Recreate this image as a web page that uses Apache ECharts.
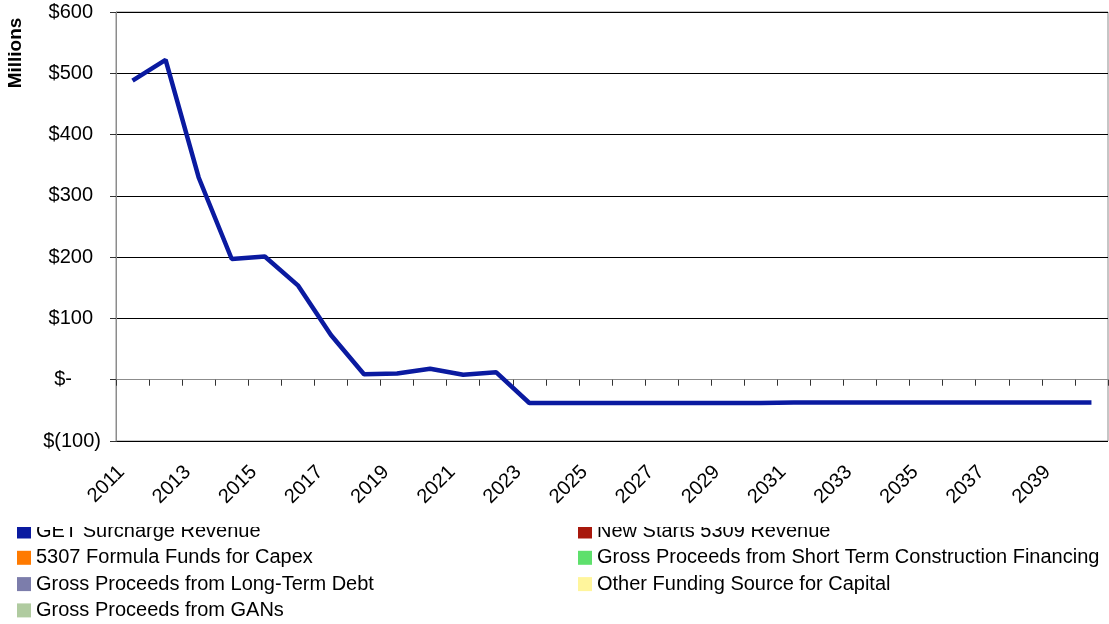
<!DOCTYPE html>
<html>
<head>
<meta charset="utf-8">
<script src="https://cdn.jsdelivr.net/npm/echarts@6/dist/echarts.min.js"></script>
<style>
html,body{margin:0;padding:0;background:#fff;}
#main{width:1109px;height:624px;}
</style>
</head>
<body>
<div id="main"></div>
<script>
const years = ['2011','2012','2013','2014','2015','2016','2017','2018','2019','2020','2021','2022','2023','2024','2025','2026','2027','2028','2029','2030','2031','2032','2033','2034','2035','2036','2037','2038','2039','2040'];
const getSurcharge = [488, 522, 330, 197, 201, 154, 73, 9, 10, 18, 8, 12, -38, -38, -38, -38, -38, -38, -38, -38, -37, -37, -37, -37, -37, -37, -37, -37, -37, -37];
const seriesNames = ['GET Surcharge Revenue','New Starts 5309 Revenue','5307 Formula Funds for Capex','Gross Proceeds from Short Term Construction Financing','Gross Proceeds from Long-Term Debt','Other Funding Source for Capital','Gross Proceeds from GANs'];
const seriesColors = ['#0A1AA0','#A8180C','#FF7A00','#5EE06C','#7C7DAB','#FFF59C','#B0CBA0'];
const yTicks = {min: -100, max: 600, interval: 100};

const chart = echarts.init(document.getElementById('main'), null, {renderer: 'canvas'});
const font = 'Liberation Sans, Arial, sans-serif';

function fmtY(v) {
  if (v === 0) return '{z|$-}';
  if (v < 0) return '{n|$(' + Math.abs(v) + ')}';
  return '{p|$' + v + '}';
}
const labStyle = {fontSize: 20, color: '#000', fontFamily: font};

const series = seriesNames.map((n, i) => ({
  name: n,
  type: 'line',
  data: i === 0 ? getSurcharge : [],
  color: seriesColors[i],
  showSymbol: false,
  symbol: 'none',
  lineStyle: {width: 4.5, color: seriesColors[i]},
  xAxisIndex: 0,
  yAxisIndex: 0,
  animation: false
}));

chart.setOption({
  animation: false,
  backgroundColor: '#ffffff',
  grid: [
    {left: 116, right: 1, top: 12, bottom: 183, show: true, borderColor: '#8c8c8c', borderWidth: 1},
    {left: 105, right: 12, top: 12, bottom: 183, show: false}
  ],
  xAxis: [{
    type: 'category',
    gridIndex: 0,
    data: years,
    boundaryGap: true,
    axisLine: {onZero: true, lineStyle: {color: '#8c8c8c', width: 1}},
    axisTick: {show: true, length: 6, interval: 0, lineStyle: {color: '#333'}},
    axisLabel: {show: false},
    splitLine: {show: false}
  }, {
    type: 'category',
    gridIndex: 1,
    data: years,
    position: 'bottom',
    boundaryGap: true,
    axisLine: {show: false, onZero: false},
    axisTick: {show: false},
    axisLabel: {show: true, interval: 1, rotate: 45, margin: 28, fontSize: 20, color: '#000', fontFamily: font},
    splitLine: {show: false}
  }],
  yAxis: [{
    type: 'value',
    gridIndex: 0,
    min: yTicks.min, max: yTicks.max, interval: yTicks.interval,
    axisLine: {show: true, lineStyle: {color: '#8c8c8c'}},
    axisTick: {show: true, length: 6, lineStyle: {color: '#333'}},
    axisLabel: {
      formatter: fmtY, margin: 15, fontSize: 20, color: '#000', fontFamily: font,
      rich: {
        p: Object.assign({padding: [0, 8, 0, 0]}, labStyle),
        n: Object.assign({padding: [0, 0, 0, 0]}, labStyle),
        z: Object.assign({padding: [0, 29, 0, 0]}, labStyle)
      }
    },
    splitLine: {show: true, lineStyle: {color: '#000', width: 1}}
  }, {
    type: 'value',
    gridIndex: 1,
    min: yTicks.min, max: yTicks.max, interval: yTicks.interval,
    show: false
  }],
  legend: [{
    orient: 'vertical',
    left: 17, top: 521.5, padding: 0,
    itemWidth: 14, itemHeight: 14, itemGap: 6.3,
    icon: 'rect',
    data: [seriesNames[0], seriesNames[2], seriesNames[4], seriesNames[6]],
    textStyle: {fontSize: 20, color: '#000', fontFamily: font},
    selectedMode: false
  }, {
    orient: 'vertical',
    left: 578, top: 521.5, padding: 0,
    itemWidth: 14, itemHeight: 14, itemGap: 6.3,
    icon: 'rect',
    data: [seriesNames[1], seriesNames[3], seriesNames[5]],
    textStyle: {fontSize: 20, color: '#000', fontFamily: font},
    selectedMode: false
  }],
  graphic: [{
    type: 'rect',
    left: 0, top: 512,
    shape: {width: 1109, height: 15},
    style: {fill: '#ffffff'},
    z: 1000
  }, {
    type: 'text',
    x: 16, y: 53,
    rotation: Math.PI / 2,
    style: {text: 'Millions', font: 'bold 19px Liberation Sans, Arial, sans-serif', fill: '#000', textAlign: 'center', textVerticalAlign: 'middle'},
    z: 100
  }],
  series: series
});
</script>
</body>
</html>
